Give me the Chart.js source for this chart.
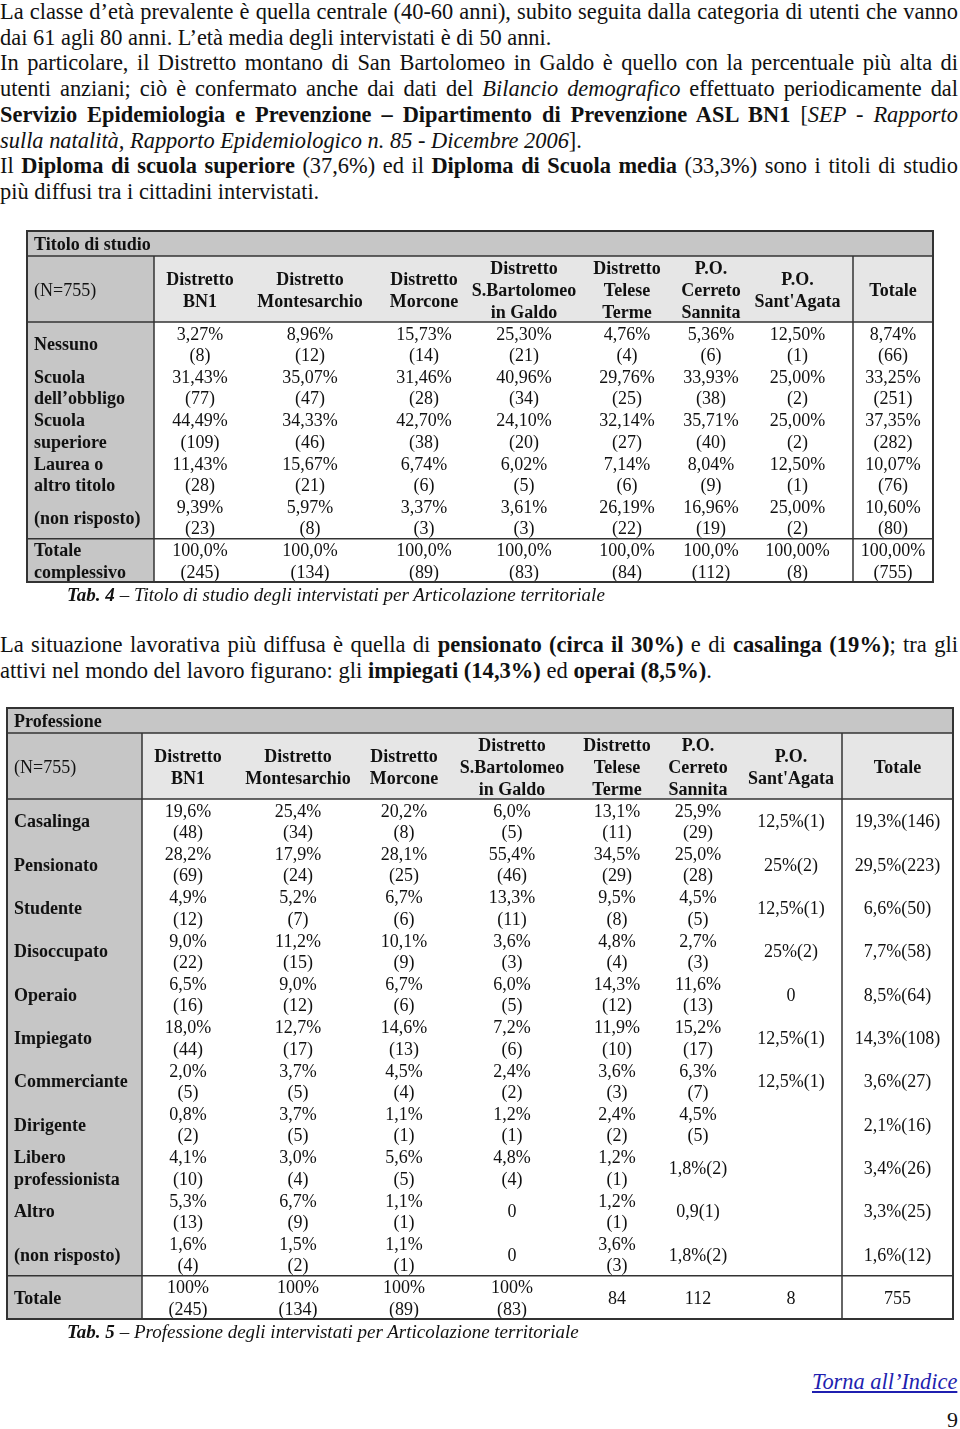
<!DOCTYPE html>
<html lang="it">
<head>
<meta charset="utf-8">
<title>Titolo di studio e Professione per Articolazione territoriale</title>
<script src="https://cdn.jsdelivr.net/npm/chart.js@4.4.1/dist/chart.umd.min.js"></script>
<style>
  html, body { margin: 0; padding: 0; background: #fff; }
  body {
    position: relative; width: 960px; height: 1429px; overflow: hidden;
    font-family: "Liberation Serif", "Times New Roman", serif; color: #111;
  }
  .ln {
    position: absolute; left: 0; width: 958px;
    font-size: 22.4px; line-height: 26px;
    text-align: justify; text-align-last: justify;
  }
  .ln.last { text-align: left; text-align-last: left; }
  #para2 { position: absolute; left: 0; top: 632px; transform-origin: 0 0; }
  #para2 .ln { font-size: 23px; }
  canvas { position: absolute; left: 0; }
  .caption {
    position: absolute; left: 67px; font-size: 19px; line-height: 20px;
    font-style: italic; white-space: nowrap;
  }
  #back {
    position: absolute; left: 812px; top: 1369px; font-size: 22.4px; line-height: 26px;
    font-style: italic; color: #1f1fb0; text-decoration: underline; white-space: nowrap;
  }
  #page { position: absolute; left: 947px; top: 1407px; font-size: 22px; line-height: 26px; }
</style>
</head>
<body>

<div class="ln" style="top:-1px">La classe d’età prevalente è quella centrale (40-60 anni), subito seguita dalla categoria di utenti che vanno</div>
<div class="ln last" style="top:24.7px">dai 61 agli 80 anni. L’età media degli intervistati è di 50 anni.</div>
<div class="ln" style="top:50.4px">In particolare, il Distretto montano di San Bartolomeo in Galdo è quello con la percentuale più alta di</div>
<div class="ln" style="top:76.1px">utenti anziani; ciò è confermato anche dai dati del <i>Bilancio demografico</i> effettuato periodicamente dal</div>
<div class="ln" style="top:101.8px"><b>Servizio Epidemiologia e Prevenzione – Dipartimento di Prevenzione ASL BN1</b> [<i>SEP - Rapporto</i></div>
<div class="ln last" style="top:127.5px"><i>sulla natalità, Rapporto Epidemiologico n. 85 - Dicembre 2006</i>].</div>
<div class="ln" style="top:153.2px">Il <b>Diploma di scuola superiore</b> (37,6%) ed il <b>Diploma di Scuola media</b> (33,3%) sono i titoli di studio</div>
<div class="ln last" style="top:178.9px">più diffusi tra i cittadini intervistati.</div>

<canvas id="studioTable" width="960" height="360" style="top:226px"></canvas>
<div class="caption" style="top:585px"><b>Tab. 4</b> – Titolo di studio degli intervistati per Articolazione territoriale</div>

<div id="para2">
  <div class="ln" style="top:0">La situazione lavorativa più diffusa è quella di <b>pensionato (circa il 30%)</b> e di <b>casalinga (19%)</b>; tra gli</div>
  <div class="ln last" style="top:26px"><span id="p2last">attivi nel mondo del lavoro figurano: gli <b>impiegati (14,3%)</b> ed <b>operai (8,5%)</b>.</span></div>
</div>

<canvas id="profTable" width="960" height="620" style="top:703px"></canvas>
<div class="caption" style="top:1322px"><b>Tab. 5</b> – Professione degli intervistati per Articolazione territoriale</div>

<div id="back">Torna all’Indice</div>
<div id="page">9</div>

<script>
// ---- Tab. 4: titolo di studio ----
const studioRows = ['Nessuno', 'Scuola\ndell’obbligo', 'Scuola\nsuperiore', 'Laurea o\naltro titolo', '(non risposto)', 'Totale\ncomplessivo'];
const studioCols = ['Distretto\nBN1', 'Distretto\nMontesarchio', 'Distretto\nMorcone', 'Distretto\nS.Bartolomeo\nin Galdo',
  'Distretto\nTelese\nTerme', 'P.O.\nCerreto\nSannita', "P.O.\nSant'Agata", 'Totale'];
const studioPct = [
  ['3,27%', '8,96%', '15,73%', '25,30%', '4,76%', '5,36%', '12,50%', '8,74%'],
  ['31,43%', '35,07%', '31,46%', '40,96%', '29,76%', '33,93%', '25,00%', '33,25%'],
  ['44,49%', '34,33%', '42,70%', '24,10%', '32,14%', '35,71%', '25,00%', '37,35%'],
  ['11,43%', '15,67%', '6,74%', '6,02%', '7,14%', '8,04%', '12,50%', '10,07%'],
  ['9,39%', '5,97%', '3,37%', '3,61%', '26,19%', '16,96%', '25,00%', '10,60%'],
  ['100,0%', '100,0%', '100,0%', '100,0%', '100,0%', '100,0%', '100,00%', '100,00%']
];
const studioN = [
  [8, 12, 14, 21, 4, 6, 1, 66],
  [77, 47, 28, 34, 25, 38, 2, 251],
  [109, 46, 38, 20, 27, 40, 2, 282],
  [28, 21, 6, 5, 6, 9, 1, 76],
  [23, 8, 3, 3, 22, 19, 2, 80],
  [245, 134, 89, 83, 84, 112, 8, 755]
];

// ---- Tab. 5: professione ----
const profRows = ['Casalinga', 'Pensionato', 'Studente', 'Disoccupato', 'Operaio', 'Impiegato', 'Commerciante',
  'Dirigente', 'Libero\nprofessionista', 'Altro', '(non risposto)', 'Totale'];
const profCols = studioCols;
const profCells = [
  ['19,6%\n(48)', '25,4%\n(34)', '20,2%\n(8)', '6,0%\n(5)', '13,1%\n(11)', '25,9%\n(29)', '12,5%(1)', '19,3%(146)'],
  ['28,2%\n(69)', '17,9%\n(24)', '28,1%\n(25)', '55,4%\n(46)', '34,5%\n(29)', '25,0%\n(28)', '25%(2)', '29,5%(223)'],
  ['4,9%\n(12)', '5,2%\n(7)', '6,7%\n(6)', '13,3%\n(11)', '9,5%\n(8)', '4,5%\n(5)', '12,5%(1)', '6,6%(50)'],
  ['9,0%\n(22)', '11,2%\n(15)', '10,1%\n(9)', '3,6%\n(3)', '4,8%\n(4)', '2,7%\n(3)', '25%(2)', '7,7%(58)'],
  ['6,5%\n(16)', '9,0%\n(12)', '6,7%\n(6)', '6,0%\n(5)', '14,3%\n(12)', '11,6%\n(13)', '0', '8,5%(64)'],
  ['18,0%\n(44)', '12,7%\n(17)', '14,6%\n(13)', '7,2%\n(6)', '11,9%\n(10)', '15,2%\n(17)', '12,5%(1)', '14,3%(108)'],
  ['2,0%\n(5)', '3,7%\n(5)', '4,5%\n(4)', '2,4%\n(2)', '3,6%\n(3)', '6,3%\n(7)', '12,5%(1)', '3,6%(27)'],
  ['0,8%\n(2)', '3,7%\n(5)', '1,1%\n(1)', '1,2%\n(1)', '2,4%\n(2)', '4,5%\n(5)', '', '2,1%(16)'],
  ['4,1%\n(10)', '3,0%\n(4)', '5,6%\n(5)', '4,8%\n(4)', '1,2%\n(1)', '1,8%(2)', '', '3,4%(26)'],
  ['5,3%\n(13)', '6,7%\n(9)', '1,1%\n(1)', '0', '1,2%\n(1)', '0,9(1)', '', '3,3%(25)'],
  ['1,6%\n(4)', '1,5%\n(2)', '1,1%\n(1)', '0', '3,6%\n(3)', '1,8%(2)', '', '1,6%(12)'],
  ['100%\n(245)', '100%\n(134)', '100%\n(89)', '100%\n(83)', '84', '112', '8', '755']
];

const studioCells = studioPct.map((row, i) => row.map((p, j) => p + '\n(' + studioN[i][j] + ')'));

// draw one multi-line string centred vertically on cy
function drawLines(ctx, text, x, cy, gap) {
  const lines = String(text).split('\n');
  lines.forEach((t, k) => ctx.fillText(t, x, cy + (k - (lines.length - 1) / 2) * gap));
}

// Plugin: paints the table, rows placed by the category y scale, columns by the linear x scale
const tableGrid = {
  id: 'tableGrid',
  afterDraw(chart, _args, o) {
    const ctx = chart.ctx, area = chart.chartArea;
    const xs = chart.scales.x, ys = chart.scales.y;
    let acc = 0;
    const edges = [xs.getPixelForValue(0)];
    o.colWidths.forEach(w => { acc += w; edges.push(xs.getPixelForValue(acc)); });
    const L = edges[0], R = edges[edges.length - 1];
    const dataTop = area.top, B = area.bottom;
    const headTop = dataTop - o.headH, T = headTop - o.titleH;
    const nCol = edges.length - 1;
    const band = (B - dataTop) / o.rows.length;
    const dy = o.textShift;
    const font = b => (b ? 'bold ' : '') + o.fontSize + 'px "Liberation Serif", "Times New Roman", serif';

    ctx.save();
    ctx.fillStyle = o.darkFill;
    ctx.fillRect(L, T, R - L, o.titleH);
    ctx.fillRect(L, headTop, edges[1] - L, B - headTop);
    ctx.fillStyle = o.lightFill;
    ctx.fillRect(edges[1], headTop, R - edges[1], o.headH);

    ctx.fillStyle = '#111';
    ctx.textBaseline = 'middle';
    ctx.textAlign = 'left';
    ctx.font = font(true);
    ctx.fillText(o.title, L + o.padX, T + o.titleH / 2 + dy);
    ctx.font = font(false);
    ctx.fillText(o.nLabel, L + o.padX, headTop + o.headH / 2 + dy);

    ctx.font = font(true);
    ctx.textAlign = 'center';
    o.cols.forEach((c, j) => drawLines(ctx, c, (edges[j + 1] + edges[j + 2]) / 2, headTop + o.headH / 2 + dy, o.headGap));

    o.rows.forEach((r, i) => {
      const cy = ys.getPixelForValue(i) + dy;
      ctx.font = font(true);
      ctx.textAlign = 'left';
      drawLines(ctx, r, L + o.padX, cy, o.rowGap);
      ctx.font = font(false);
      ctx.textAlign = 'center';
      o.cells[i].forEach((c, j) => drawLines(ctx, c, (edges[j + 1] + edges[j + 2]) / 2, cy, o.rowGap));
    });

    ctx.strokeStyle = o.lineColor;
    ctx.lineWidth = 1.5;
    const hline = y => { ctx.beginPath(); ctx.moveTo(L, y); ctx.lineTo(R, y); ctx.stroke(); };
    const vline = x => { ctx.beginPath(); ctx.moveTo(x, headTop); ctx.lineTo(x, B); ctx.stroke(); };
    hline(headTop);
    hline(dataTop);
    hline(B - band);
    vline(edges[1]);
    vline(edges[nCol - 1]);
    ctx.lineWidth = 2;
    ctx.strokeRect(L, T, R - L, B - T);
    ctx.restore();
  }
};

function buildTable(canvasId, opts, padding) {
  const total = opts.colWidths.reduce((s, w) => s + w, 0);
  return new Chart(document.getElementById(canvasId), {
    type: 'bar',
    data: { labels: opts.rows.map(r => r.replace('\n', ' ')), datasets: [] },
    options: {
      responsive: false,
      animation: false,
      devicePixelRatio: 1,
      indexAxis: 'y',
      layout: { padding: padding },
      events: [],
      plugins: { legend: { display: false }, tooltip: { enabled: false }, tableGrid: opts },
      scales: {
        x: { type: 'linear', min: 0, max: total, display: false },
        y: { type: 'category', offset: true, display: false }
      }
    },
    plugins: [tableGrid]
  });
}

const tableStyle = {
  titleH: 25, headH: 66, fontSize: 18, padX: 7, headGap: 22, rowGap: 21.5, textShift: 2,
  darkFill: '#c6c6c6', lightFill: '#e6e6e6', lineColor: '#333333'
};

buildTable('studioTable', Object.assign({}, tableStyle, {
  title: 'Titolo di studio', nLabel: '(N=755)',
  rows: studioRows, cols: studioCols, cells: studioCells,
  colWidths: [127, 92, 128, 100, 100, 106, 62, 111, 80]
}), { left: 27, right: 27, top: 96, bottom: 4 });

buildTable('profTable', Object.assign({}, tableStyle, {
  title: 'Professione', nLabel: '(N=755)',
  rows: profRows, cols: profCols, cells: profCells,
  colWidths: [135, 92, 128, 84, 132, 78, 84, 102, 111]
}), { left: 7, right: 7, top: 96, bottom: 4 });

// condensed paragraph: squeeze so the short line ends where it does in the page
(function () {
  const p2 = document.getElementById('para2');
  const w = document.getElementById('p2last').getBoundingClientRect().width;
  const s = 712 / w;
  p2.style.width = (958 / s) + 'px';
  p2.querySelectorAll('.ln').forEach(d => { d.style.width = (958 / s) + 'px'; });
  p2.style.transform = 'scaleX(' + s + ')';
})();
</script>
</body>
</html>
